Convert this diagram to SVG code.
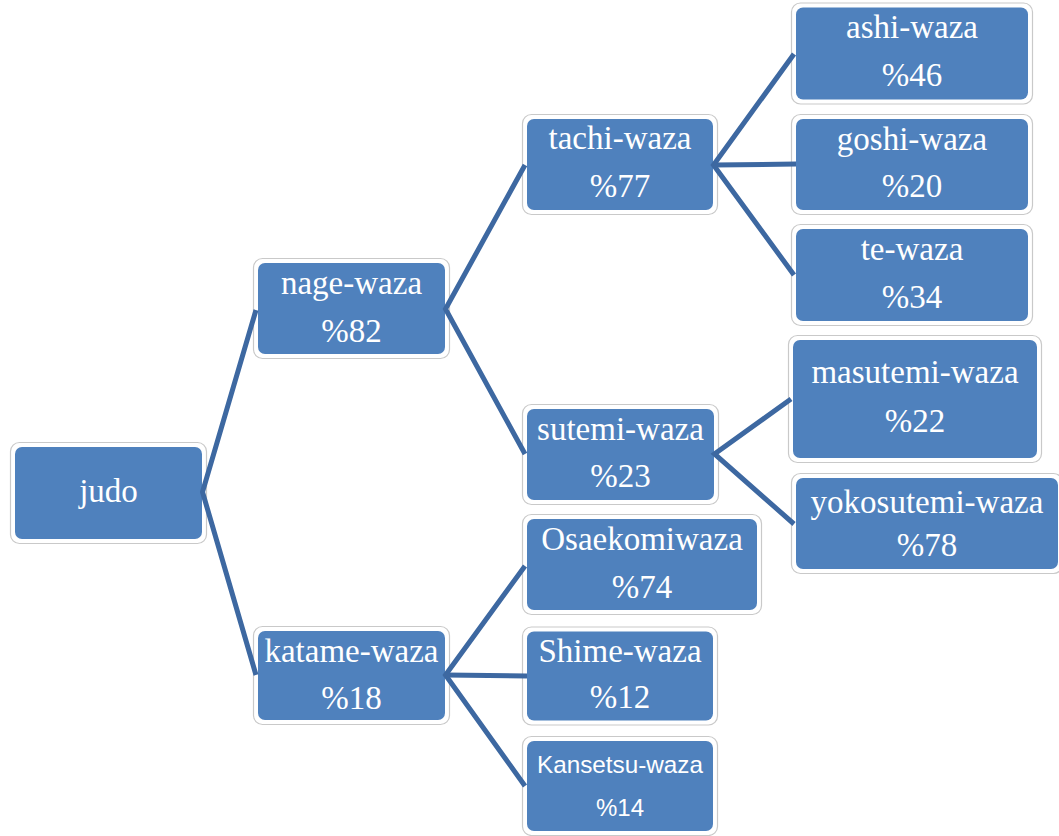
<svg xmlns="http://www.w3.org/2000/svg" width="1059" height="836" viewBox="0 0 1059 836">
<defs>
<style>
.frame{fill:#ffffff;stroke:#c9c9c9;stroke-width:1.2}
.box{fill:#4f81bd}
.t{font-family:"Liberation Serif","Times New Roman",serif;font-size:33px;fill:#ffffff;text-anchor:middle}
.s{font-family:"Liberation Sans",Arial,sans-serif;font-size:24px;fill:#ffffff;text-anchor:middle}
.c{stroke:#3d68a1;stroke-width:5;fill:none;stroke-linecap:butt;stroke-linejoin:miter}
</style>
</defs>
<rect width="1059" height="836" fill="#ffffff"/>
<g id="n-judo">
<rect class="frame" x="10.5" y="442.5" width="196" height="101" rx="9"/>
<rect class="box" x="15" y="447" width="187" height="92" rx="7"/>
<text class="t" x="108.5" y="502">judo</text>
</g>
<g id="n-nage">
<rect class="frame" x="253.5" y="258.5" width="196" height="100" rx="9"/>
<rect class="box" x="258" y="263" width="187" height="91" rx="7"/>
<text class="t" x="351.5" y="294">nage-waza</text>
<text class="t" x="351.5" y="342">%82</text>
</g>
<g id="n-katame">
<rect class="frame" x="253.5" y="626.5" width="196" height="98" rx="9"/>
<rect class="box" x="258" y="631" width="187" height="89" rx="7"/>
<text class="t" x="351.5" y="662">katame-waza</text>
<text class="t" x="351.5" y="709">%18</text>
</g>
<g id="n-tachi">
<rect class="frame" x="522.5" y="114.5" width="195" height="100" rx="9"/>
<rect class="box" x="527" y="119" width="186" height="91" rx="7"/>
<text class="t" x="620" y="149">tachi-waza</text>
<text class="t" x="620" y="197">%77</text>
</g>
<g id="n-sutemi">
<rect class="frame" x="522.5" y="404.5" width="196" height="100" rx="9"/>
<rect class="box" x="527" y="409" width="187" height="91" rx="7"/>
<text class="t" x="620.5" y="440">sutemi-waza</text>
<text class="t" x="620.5" y="487">%23</text>
</g>
<g id="n-osaekomi">
<rect class="frame" x="522.5" y="514.5" width="239" height="100" rx="9"/>
<rect class="box" x="527" y="519" width="230" height="91" rx="7"/>
<text class="t" x="642" y="550">Osaekomiwaza</text>
<text class="t" x="642" y="598">%74</text>
</g>
<g id="n-shime">
<rect class="frame" x="522.5" y="627" width="195" height="98" rx="9"/>
<rect class="box" x="527" y="631.5" width="186" height="89" rx="7"/>
<text class="t" x="620" y="662">Shime-waza</text>
<text class="t" x="620" y="708">%12</text>
</g>
<g id="n-kansetsu">
<rect class="frame" x="522.5" y="736.5" width="195" height="99" rx="9"/>
<rect class="box" x="527" y="741" width="186" height="90" rx="7"/>
<text class="s" x="620" y="773" textLength="166" lengthAdjust="spacingAndGlyphs">Kansetsu-waza</text>
<text class="s" x="620" y="816">%14</text>
</g>
<g id="n-ashi">
<rect class="frame" x="791.5" y="3" width="241" height="101" rx="9"/>
<rect class="box" x="796" y="7.5" width="232" height="92" rx="7"/>
<text class="t" x="912" y="38">ashi-waza</text>
<text class="t" x="912" y="86">%46</text>
</g>
<g id="n-goshi">
<rect class="frame" x="791.5" y="114.5" width="241" height="100" rx="9"/>
<rect class="box" x="796" y="119" width="232" height="91" rx="7"/>
<text class="t" x="912" y="150">goshi-waza</text>
<text class="t" x="912" y="197">%20</text>
</g>
<g id="n-te">
<rect class="frame" x="791.5" y="224.5" width="241" height="101" rx="9"/>
<rect class="box" x="796" y="229" width="232" height="92" rx="7"/>
<text class="t" x="912" y="260">te-waza</text>
<text class="t" x="912" y="308">%34</text>
</g>
<g id="n-masutemi">
<rect class="frame" x="788.5" y="335.5" width="253" height="127" rx="9"/>
<rect class="box" x="793" y="340" width="244" height="118" rx="7"/>
<text class="t" x="915" y="383">masutemi-waza</text>
<text class="t" x="915" y="432">%22</text>
</g>
<g id="n-yokosutemi">
<rect class="frame" x="791.5" y="473.5" width="271" height="100" rx="9"/>
<rect class="box" x="796" y="478" width="262" height="91" rx="7"/>
<text class="t" x="927" y="513">yokosutemi-waza</text>
<text class="t" x="927" y="556">%78</text>
</g>
<g id="connectors">
<polyline class="c" points="256,310 202.5,492 256,675"/>
<polyline class="c" points="525,165 445.5,309 525,454"/>
<polyline class="c" points="525,566 445.5,675 525,786"/>
<line class="c" x1="445.5" y1="675" x2="527" y2="676"/>
<polyline class="c" points="794,54 713.5,165 794,275"/>
<line class="c" x1="713.5" y1="165" x2="796" y2="164"/>
<polyline class="c" points="791,399 714.5,454 794,524"/>
</g>
</svg>
